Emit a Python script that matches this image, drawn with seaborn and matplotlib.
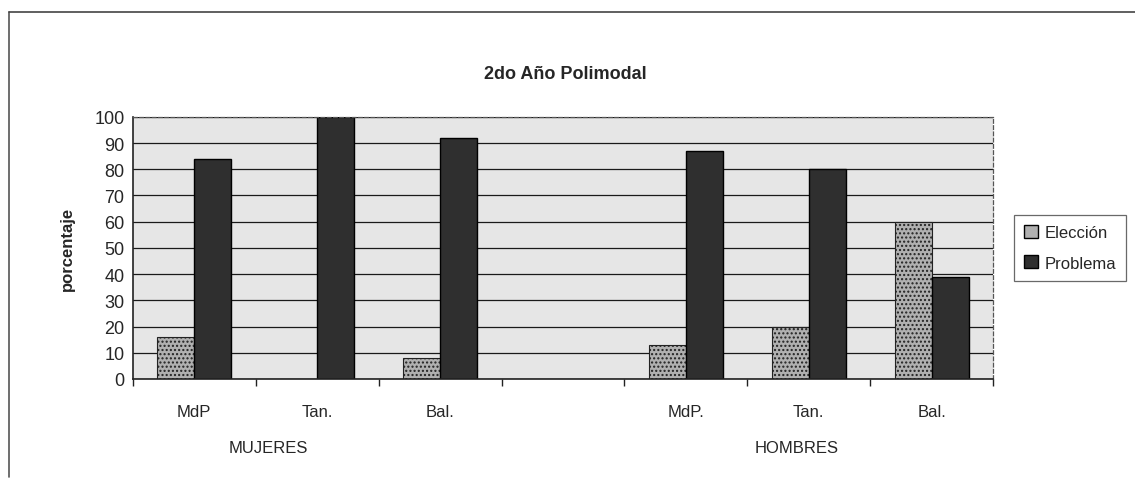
import numpy as np
import pandas as pd
import seaborn as sns
import matplotlib.pyplot as plt
from matplotlib.ticker import FixedLocator

sns.set_theme(style="white")
plt.rcParams['font.family'] = ['Liberation Sans', 'DejaVu Sans']
plt.rcParams['hatch.color'] = '#3a3a3a'

# categorias del eje x (la 4ta queda vacia como separador)
keys = ['m_mdp', 'm_tan', 'm_bal', 'vacio', 'h_mdp', 'h_tan', 'h_bal']
labels = ['MdP', 'Tan.', 'Bal.', '', 'MdP.', 'Tan.', 'Bal.']
grupos = ['MUJERES', 'HOMBRES']
series = ['Elección', 'Problema']
eleccion = [16, 0, 8, np.nan, 13, 20, 60]
problema = [84, 100, 92, np.nan, 87, 80, 39]

df = pd.DataFrame({
    'cat': keys * 2,
    'serie': [series[0]] * len(keys) + [series[1]] * len(keys),
    'valor': eleccion + problema,
})

fig = plt.figure(figsize=(11.35, 4.81), dpi=100)
fig.patch.set_facecolor('white')
ax = fig.add_axes([0.117, 0.21, 0.758, 0.545])

sns.barplot(data=df, x='cat', y='valor', hue='serie', order=keys,
            hue_order=series, palette=['#b0b0b0', '#2f2f2f'],
            width=0.6, gap=0, saturation=1, edgecolor='black',
            linewidth=1.0, err_kws={'linewidth': 0}, ax=ax)

# textura punteada para "Elección"
for bar in ax.containers[0]:
    bar.set_hatch('....')
    bar.set_edgecolor('#222222')
    bar.set_linewidth(0.8)

ax.set_facecolor('#e6e6e6')
ax.set_ylim(0, 100)
ax.set_yticks(range(0, 101, 10))
ax.set_xlim(-0.5, len(keys) - 0.5)
ax.yaxis.grid(True, color='#1a1a1a', linewidth=0.9)
ax.set_axisbelow(True)
ax.tick_params(axis='y', labelsize=13, length=0, pad=6)
ax.set_xticks(range(len(keys)))
ax.set_xticklabels(labels, fontsize=12)
ax.tick_params(axis='x', which='major', length=0, pad=18)
ax.xaxis.set_minor_locator(FixedLocator(np.arange(-0.5, len(keys), 1)))
ax.tick_params(axis='x', which='minor', length=5, color='#222222', bottom=True)

for s in ['left', 'bottom']:
    ax.spines[s].set_color('#222222')
    ax.spines[s].set_linewidth(1.2)
for s in ['top', 'right']:
    ax.spines[s].set_color('#555555')
    ax.spines[s].set_linestyle((0, (3, 2)))
    ax.spines[s].set_linewidth(0.9)

ax.set_xlabel('')
ax.set_ylabel('porcentaje', fontsize=12, fontweight='bold', labelpad=14)

# etiquetas de grupo
trans = ax.get_xaxis_transform()
ax.text(0.6, -0.26, grupos[0], transform=trans, ha='center', va='center',
        fontsize=12)
ax.text(4.9, -0.26, grupos[1], transform=trans, ha='center', va='center',
        fontsize=12)

fig.text(0.498, 0.845, '2do Año Polimodal', ha='center', va='center',
         fontsize=13, fontweight='bold')

leg = ax.legend(loc='center left', bbox_to_anchor=(1.015, 0.5), fontsize=12,
                frameon=True, fancybox=False, edgecolor='#444444',
                handlelength=0.8, handleheight=0.8, handletextpad=0.4,
                borderpad=0.6, labelspacing=0.9)
leg.get_frame().set_linewidth(0.9)

# marco exterior del grafico
fig.add_artist(plt.Line2D([0.008, 0.008], [0.006, 0.973], color='#555555', lw=1.2))
fig.add_artist(plt.Line2D([0.008, 1.0], [0.973, 0.973], color='#444444', lw=1.2))

fig.savefig('out.png', dpi=100)
